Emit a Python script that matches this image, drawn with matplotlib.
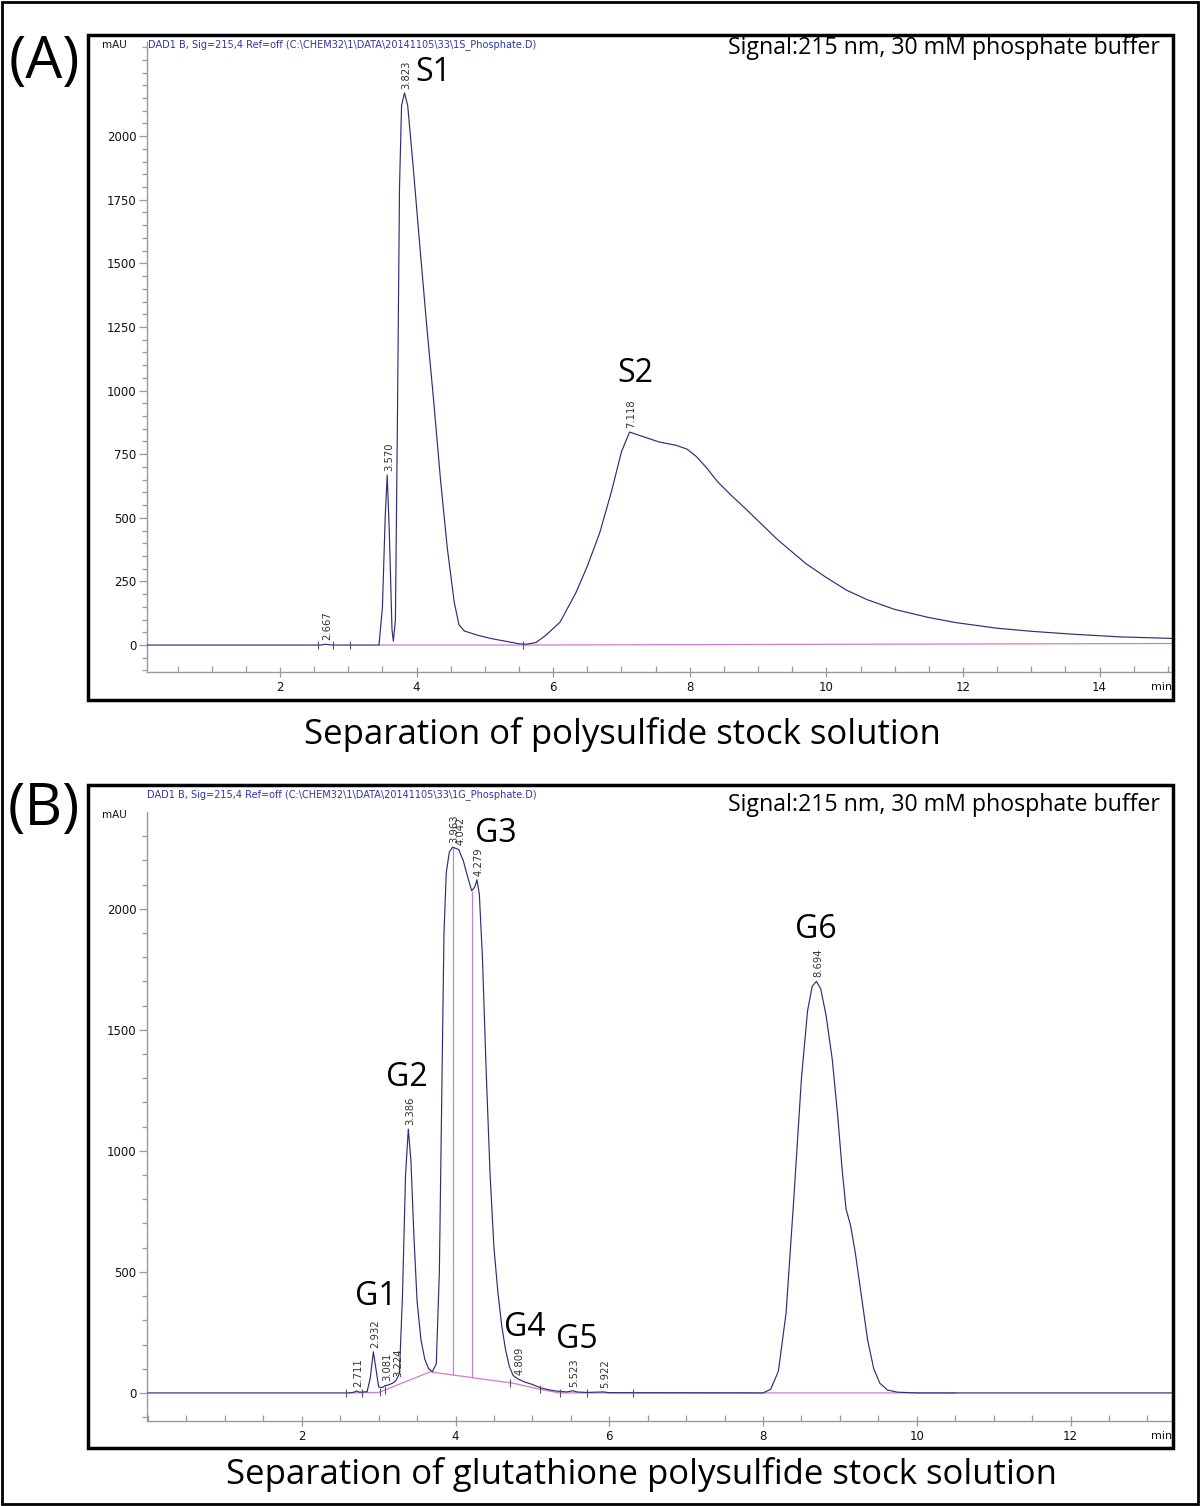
import numpy as np
import matplotlib
matplotlib.use("Agg")
import matplotlib.pyplot as plt
from matplotlib.patches import Rectangle
from matplotlib.ticker import MultipleLocator, FixedLocator

# ---------------- data: panel A (polysulfide stock) ----------------
a_time = [0.05, 2.60, 2.667, 2.75, 3.45, 3.50, 3.54, 3.57, 3.60, 3.64, 3.66, 3.69,
          3.72, 3.75, 3.78, 3.823, 3.87, 3.95, 4.05, 4.15, 4.25, 4.35, 4.45, 4.55,
          4.62, 4.70, 4.90, 5.10, 5.30, 5.50, 5.60, 5.75, 5.90, 6.10, 6.33, 6.50,
          6.68, 6.85, 7.00, 7.118, 7.25, 7.55, 7.80, 7.96, 8.10, 8.25, 8.41, 8.60,
          8.80, 9.00, 9.29, 9.70, 10.00, 10.30, 10.60, 11.00, 11.50, 11.90, 12.50,
          13.00, 13.64, 14.30, 15.06]
a_signal = [0, 0, 3, 0, 0, 150, 500, 668, 450, 60, 15, 100,
            900, 1800, 2120, 2170, 2120, 1880, 1560, 1250, 960, 650, 380, 170,
            80, 55, 38, 25, 15, 5, 3, 10, 40, 90, 204, 310,
            440, 600, 760, 837, 825, 798, 785, 770, 740, 695, 641, 590,
            540, 488, 413, 320, 265, 215, 178, 140, 108, 88, 66,
            54, 42, 32, 26]
a_base_time = [3.45, 5.58, 10.30, 13.40, 15.06]
a_base_signal = [0, 0, 3, 5, 6]
a_event_times = [2.56, 2.78, 3.02, 5.56]
a_peak_rt = [2.667, 3.570, 3.823, 7.118]
a_peak_text = ["2.667", "3.570", "3.823", "7.118"]
a_names = ["S1", "S2"]

# ---------------- data: panel B (glutathione polysulfide stock) ----------------
b_time = [0.0, 2.62, 2.68, 2.711, 2.75, 2.85, 2.89, 2.932, 2.96, 3.00, 3.05, 3.081,
          3.12, 3.18, 3.224, 3.27, 3.31, 3.35, 3.386, 3.42, 3.46, 3.50, 3.55, 3.60,
          3.65, 3.70, 3.75, 3.79, 3.82, 3.85, 3.88, 3.92, 3.963, 4.00, 4.042, 4.10,
          4.16, 4.21, 4.25, 4.279, 4.31, 4.35, 4.40, 4.45, 4.50, 4.55, 4.60, 4.65,
          4.70, 4.75, 4.809, 4.90, 5.00, 5.10, 5.20, 5.30, 5.45, 5.523, 5.58, 5.70,
          5.922, 6.00, 8.00, 8.10, 8.20, 8.30, 8.40, 8.50, 8.58, 8.64, 8.694, 8.75,
          8.82, 8.90, 8.97, 9.03, 9.08, 9.14, 9.20, 9.28, 9.36, 9.44, 9.52, 9.62,
          9.75, 10.00, 13.32]
b_signal = [0, 0, 3, 8, 3, 5, 60, 170, 110, 25, 22, 30,
            32, 40, 50, 80, 400, 900, 1090, 960, 640, 380, 220, 140,
            100, 88, 120, 500, 1200, 1900, 2150, 2235, 2255, 2250, 2245, 2200,
            2130, 2075, 2090, 2120, 2060, 1800, 1320, 900, 600, 420, 280, 180,
            110, 72, 58, 45, 35, 22, 14, 8, 4, 9, 4, 2,
            4, 1, 0, 15, 90, 330, 800, 1300, 1580, 1680, 1700, 1670,
            1560, 1380, 1150, 920, 760, 690, 580, 400, 220, 100, 40, 12,
            3, 0, 0]
b_base_time = [2.62, 3.00, 3.67, 4.75, 5.10, 5.35, 8.00, 10.50]
b_base_signal = [0, 2, 87, 40, 15, 0, 0, 0]
b_drop_times = [3.97, 4.21]
b_event_times = [2.58, 2.78, 3.02, 3.08, 4.71, 5.10, 5.36, 5.71, 6.31]
b_peak_rt = [2.711, 2.932, 3.081, 3.224, 3.386, 3.963, 4.042, 4.279, 4.809, 5.523, 5.922, 8.694]
b_peak_text = ["2.711", "2.932", "3.081", "3.224", "3.386", "3.963", "4.042", "4.279",
               "4.809", "5.523", "5.922", "8.694"]
b_names = ["G1", "G2", "G3", "G4", "G5", "G6"]

# ---------------- styling ----------------
W, H = 1200, 1506
TRACE = "#2e2e78"
BASE = "#d27ad0"
AXIS_GREY = "#9a9a9a"
HEADER_BLUE = "#2f35a8"
NARROW = ["Liberation Sans Narrow", "DejaVu Sans"]
HUMAN = ["Open Sans", "DejaVu Sans"]

fig = plt.figure(figsize=(W / 100, H / 100), dpi=100)


def fx(px):
    return px / W


def fy(py):
    return 1 - py / H


def box(x0, y0, x1, y1, lw):
    fig.add_artist(Rectangle((fx(x0), fy(y1)), fx(x1) - fx(x0), fy(y0) - fy(y1),
                             transform=fig.transFigure, fill=False, ec="black", lw=lw))


def make_axes(left, top, right, bottom):
    return fig.add_axes([fx(left), fy(bottom), fx(right) - fx(left), fy(top) - fy(bottom)])


def style_axes(ax, xlim, ylim, ymajor, yminor, xmax_label):
    ax.set_xlim(*xlim)
    ax.set_ylim(*ylim)
    for side in ("top", "right"):
        ax.spines[side].set_visible(False)
    for side in ("left", "bottom"):
        ax.spines[side].set_color(AXIS_GREY)
        ax.spines[side].set_linewidth(1.0)
    ax.yaxis.set_major_locator(FixedLocator(ymajor))
    ax.yaxis.set_minor_locator(FixedLocator(yminor))
    xmaj = list(range(2, xmax_label + 1, 2))
    ax.xaxis.set_major_locator(FixedLocator(xmaj))
    ax.xaxis.set_minor_locator(MultipleLocator(0.5))
    ax.tick_params(axis="y", which="major", direction="out", length=6, width=0.9,
                   color=AXIS_GREY, labelsize=8.5, pad=1.5, labelcolor="#111111")
    ax.tick_params(axis="y", which="minor", direction="out", length=3.5, width=0.9,
                   color=AXIS_GREY)
    ax.tick_params(axis="x", which="major", direction="inout", length=7, width=0.9,
                   color=AXIS_GREY, labelsize=8.5, pad=3, labelcolor="#111111")
    ax.tick_params(axis="x", which="minor", direction="in", length=4, width=0.9,
                   color=AXIS_GREY)
    ax.set_xticklabels([str(v) for v in xmaj], fontfamily=NARROW)
    ax.set_yticklabels([str(v) for v in ymajor], fontfamily=NARROW)
    ax.patch.set_alpha(0)
    # unit labels at the ends of the axes
    ax.text(1.0, -0.016, "min", transform=ax.transAxes, ha="right", va="top",
            fontsize=8, color="#111111", family=NARROW)
    ax.text(-0.02, 0.995, "mAU", transform=ax.transAxes, ha="right", va="center",
            fontsize=7.5, color="#111111", family=NARROW)


def draw_trace(ax, t, s, bt, bs, events):
    ax.plot(bt, bs, color=BASE, lw=0.9, zorder=2)
    ax.plot(t, s, color=TRACE, lw=0.85, zorder=3)
    ev_base = np.interp(events, bt, bs, left=0, right=0)
    ax.plot(events, ev_base, ls="none", marker="|", ms=6, mew=0.8, color="#555555", zorder=3)


def label_peaks(ax, t, s, rts, texts):
    for rt, txt in zip(rts, texts):
        top = float(np.interp(rt, t, s))
        ax.annotate(txt, xy=(rt, top), xytext=(1.5, 3), textcoords="offset points",
                    rotation=90, ha="center", va="bottom", fontsize=7.2,
                    color="#333333", family=NARROW, zorder=4)


# ---------------- outer frame and panel boxes ----------------
box(2, 2, 1198, 1504, 2.0)
box(88, 35, 1173, 700, 2.5)
box(88, 785, 1173, 1448, 2.5)

# ---------------- panel A ----------------
axA = make_axes(147, 42, 1172, 672)
style_axes(axA, (0.053, 15.06), (-106, 2370),
           list(range(0, 2001, 250)), list(range(-100, 2351, 50)), 14)
draw_trace(axA, a_time, a_signal, a_base_time, a_base_signal, a_event_times)
label_peaks(axA, a_time, a_signal, a_peak_rt, a_peak_text)

name_pos_a = {"S1": (4.24, 2252), "S2": (7.20, 1069)}
for nm in a_names:
    x, y = name_pos_a[nm]
    axA.text(x, y, nm, ha="center", va="center", fontsize=23, family=HUMAN, color="black")

fig.text(fx(342), fy(45), r"DAD1 B, Sig=215,4 Ref=off (C:\CHEM32\1\DATA\20141105\33\1S_Phosphate.D)",
         ha="center", va="center", fontsize=7, color=HEADER_BLUE, family=NARROW)
fig.text(fx(1160), fy(48), "Signal:215 nm, 30 mM phosphate buffer", ha="right", va="center",
         fontsize=16.7, family=HUMAN)
fig.text(fx(44), fy(63), "(A)", ha="center", va="center", fontsize=42, family=HUMAN)
fig.text(fx(622), fy(734), "Separation of polysulfide stock solution", ha="center",
         va="center", fontsize=25, family=HUMAN)

# ---------------- panel B ----------------
axB = make_axes(147, 812, 1172, 1421)
style_axes(axB, (-0.013, 13.32), (-116, 2400),
           list(range(0, 2001, 500)), list(range(-100, 2301, 100)), 12)
draw_trace(axB, b_time, b_signal, b_base_time, b_base_signal, b_event_times)
drop_top = np.interp(b_drop_times, b_time, b_signal)
drop_bot = np.interp(b_drop_times, b_base_time, b_base_signal)
axB.vlines(b_drop_times, drop_bot, drop_top, color=BASE, lw=0.9, zorder=2)
label_peaks(axB, b_time, b_signal, b_peak_rt, b_peak_text)

name_pos_b = {"G1": (2.96, 397), "G2": (3.37, 1302), "G3": (4.53, 2310),
              "G4": (4.90, 269), "G5": (5.58, 219), "G6": (8.69, 1913)}
for nm in b_names:
    x, y = name_pos_b[nm]
    axB.text(x, y, nm, ha="center", va="center", fontsize=23, family=HUMAN, color="black")

fig.text(fx(342), fy(795), r"DAD1 B, Sig=215,4 Ref=off (C:\CHEM32\1\DATA\20141105\33\1G_Phosphate.D)",
         ha="center", va="center", fontsize=7, color=HEADER_BLUE, family=NARROW)
fig.text(fx(1160), fy(805), "Signal:215 nm, 30 mM phosphate buffer", ha="right", va="center",
         fontsize=16.7, family=HUMAN)
fig.text(fx(44), fy(810), "(B)", ha="center", va="center", fontsize=42, family=HUMAN)
fig.text(fx(641), fy(1474), "Separation of glutathione polysulfide stock solution", ha="center",
         va="center", fontsize=25, family=HUMAN)

fig.savefig("out.png", dpi=100, facecolor="white")
